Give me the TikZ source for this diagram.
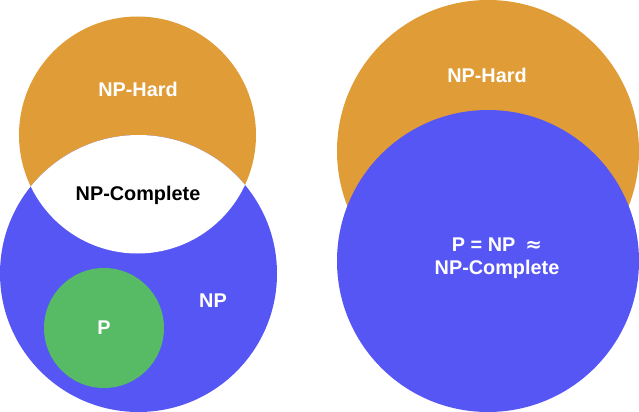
\documentclass[tikz,border=0pt]{standalone}
\usepackage{fontspec}
\setmainfont{Liberation Sans}
\usepackage{tikz}

\definecolor{hardcol}{HTML}{E09C36}
\definecolor{npcol}{HTML}{5656F5}
\definecolor{pcol}{HTML}{57BB65}

\tikzset{
  lbl/.style={font=\fontsize{11.3}{13.3}\selectfont\bfseries, text=white, align=center},
}

\begin{document}
\begin{tikzpicture}[x=0.02cm,y=-0.02cm]
      \useasboundingbox (0,0) rectangle (639,412);

      % left picture
      \fill[hardcol] (137.5,135) circle (118.5);
      \fill[npcol] (138.5,273.5) circle (138.5);
      \begin{scope}
        \clip (137.5,135) circle (118.5);
        \fill[white] (138.5,273.5) circle (138.5);
      \end{scope}
      \fill[pcol] (104,328) circle (60);

      \node[lbl] (hard1) at (138,89) {NP-Hard};
      \node[lbl,text=black] (npc1) at (138,195) {NP-Complete};
      \node[lbl] (np1) at (213,301) {NP};
      \node[lbl] (p1) at (104,328) {P};

      % right picture
      \fill[hardcol] (488,151) circle (151);
      \fill[npcol] (488,261) circle (151);

      \node[lbl] (hard2) at (487,75) {NP-Hard};
      \node[lbl] (npc2) at (497,258) {P = NP\enspace{\fontspec{DejaVu Sans}≈}\\NP-Complete};
    \end{tikzpicture}
\end{document}
